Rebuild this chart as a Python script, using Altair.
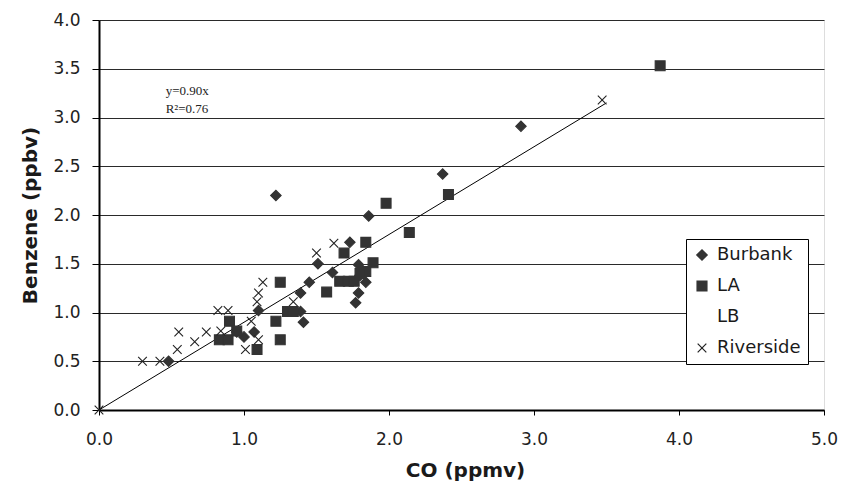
import altair as alt
import pandas as pd

# ---- data ----
sites = ["Burbank", "LA", "LB", "Riverside"]

burbank_x = [0.48, 1.22, 2.37, 2.91, 1.86, 1.73, 1.51, 1.61, 1.45, 1.39, 1.39, 1.41,
             1.10, 1.07, 1.00, 0.95, 1.79, 1.79, 1.77, 1.84, 1.80, 1.82]
burbank_y = [0.50, 2.20, 2.42, 2.91, 1.99, 1.72, 1.50, 1.41, 1.31, 1.20, 1.01, 0.90,
             1.02, 0.80, 0.75, 0.80, 1.49, 1.20, 1.10, 1.31, 1.38, 1.42]

la_x = [3.87, 2.41, 2.14, 1.98, 1.84, 1.69, 1.89, 1.66, 1.72, 1.76, 1.84, 1.57,
        1.25, 1.22, 1.25, 1.30, 1.34, 1.09, 0.83, 0.89, 0.90, 0.95, 1.80]
la_y = [3.53, 2.21, 1.82, 2.12, 1.72, 1.61, 1.51, 1.32, 1.32, 1.32, 1.42, 1.21,
        1.31, 0.91, 0.72, 1.01, 1.01, 0.62, 0.72, 0.72, 0.91, 0.81, 1.40]

lb_x = []
lb_y = []

riverside_x = [0.00, 3.47, 0.30, 0.42, 0.55, 0.54, 0.66, 0.74, 0.82, 0.89, 0.84,
               1.01, 1.10, 1.09, 1.10, 1.13, 1.50, 1.62, 1.34, 1.05]
riverside_y = [0.00, 3.18, 0.50, 0.50, 0.80, 0.62, 0.70, 0.80, 1.02, 1.02, 0.81,
               0.62, 0.72, 1.11, 1.20, 1.31, 1.61, 1.71, 1.11, 0.91]

fit_slope = 0.90
fit_x = [0.0, 3.5]
fit_label = ["y=0.90x", "R\u00b2=0.76"]

x_ticks = [0, 1, 2, 3, 4, 5]
y_ticks = [0, 0.5, 1, 1.5, 2, 2.5, 3, 3.5, 4]

rows = []
for name, xs, ys in [("Burbank", burbank_x, burbank_y), ("LA", la_x, la_y),
                     ("LB", lb_x, lb_y), ("Riverside", riverside_x, riverside_y)]:
    for a, b in zip(xs, ys):
        rows.append({"site": name, "co": a, "benzene": b})
df = pd.DataFrame(rows)

fit_df = pd.DataFrame({"co": fit_x, "benzene": [fit_slope * v for v in fit_x]})
txt_df = pd.DataFrame({"co": [0.46, 0.46], "benzene": [3.27, 3.09], "label": fit_label})

dark = "#333333"
xmark = "M-1,-1L1,1M-1,1L1,-1"

legend = alt.Legend(title=None, orient="none", legendX=587, legendY=219,
                    strokeColor="black", fillColor="white", padding=7,
                    labelFontSize=18, labelFont="DejaVu Sans", labelColor="#1a1a1a",
                    rowPadding=13, labelOffset=6, symbolStrokeWidth=1.2)

xscale = alt.Scale(domain=[0, 5], nice=False, zero=False)
yscale = alt.Scale(domain=[0, 4], nice=False, zero=False)

xaxis = alt.Axis(values=x_ticks, format=".1f", grid=False, tickSize=5,
                 labelFlush=False, labelOverlap=False,
                 labelPadding=16, labelFontSize=17, labelFont="DejaVu Sans",
                 labelColor="#222", domainColor="black", domainWidth=2,
                 tickColor="black", title="CO (ppmv)", titleFont="DejaVu Sans",
                 titleFontSize=20, titleFontWeight="bold", titleColor="#1a1a1a",
                 titleX=366, titleY=60, titleBaseline="middle")
yaxis = alt.Axis(values=y_ticks, format=".1f", grid=True, gridColor="#2a2a2a",
                 labelFlush=False, labelOverlap=False,
                 gridWidth=1, tickSize=7, labelPadding=12, labelFontSize=17,
                 labelFont="DejaVu Sans", labelColor="#222", domainColor="black",
                 domainWidth=2, tickColor="black", title="Benzene (ppbv)",
                 titleFont="DejaVu Sans", titleFontSize=20, titleFontWeight="bold",
                 titleColor="#1a1a1a", titleX=-69, titleY=195, titleBaseline="middle")

points = alt.Chart(df).mark_point(opacity=1, strokeWidth=1.1).encode(
    x=alt.X("co:Q", scale=xscale, axis=xaxis),
    y=alt.Y("benzene:Q", scale=yscale, axis=yaxis),
    shape=alt.Shape("site:N", scale=alt.Scale(domain=sites,
                    range=["diamond", "square", "triangle-up", xmark]), legend=legend),
    fill=alt.Fill("site:N", scale=alt.Scale(domain=sites,
                  range=[dark, dark, "transparent", "transparent"]), legend=legend),
    stroke=alt.Stroke("site:N", scale=alt.Scale(domain=sites,
                      range=[dark, dark, "transparent", "#222222"]), legend=legend),
    size=alt.Size("site:N", scale=alt.Scale(domain=sites, range=[110, 75, 80, 90]),
                  legend=legend),
)

line = alt.Chart(fit_df).mark_line(color="black", strokeWidth=1).encode(
    x=alt.X("co:Q", scale=xscale),
    y=alt.Y("benzene:Q", scale=yscale),
)

text = alt.Chart(txt_df).mark_text(align="left", baseline="middle",
                                   font="Liberation Serif", fontSize=13,
                                   color="#222").encode(
    x=alt.X("co:Q", scale=xscale),
    y=alt.Y("benzene:Q", scale=yscale),
    text="label:N",
)

chart = alt.layer(line, points, text).properties(
    width=725, height=390,
    autosize=alt.AutoSizeParams(type="none"),
    padding={"left": 91, "top": 12, "right": 14, "bottom": 75},
).configure_view(stroke="black", strokeWidth=1.5).configure(background="white")

chart.save("out.html", embed_options={"renderer": "svg", "actions": False})
